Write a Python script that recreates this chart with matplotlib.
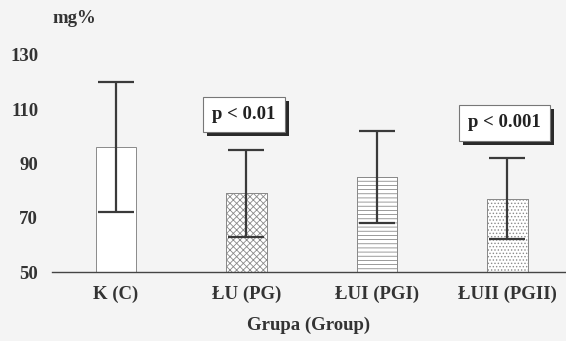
import matplotlib.pyplot as plt
from matplotlib.patches import Rectangle
import numpy as np

# data
groups = ["K (C)", "ŁU (PG)", "ŁUI (PGI)", "ŁUII (PGII)"]
means = [96, 79, 85, 77]
sd = [24, 16, 17, 15]
hatches = ["", "xxxxx", "----", "....."]
p_labels = ["", "p < 0.01", "", "p < 0.001"]
yticks = [50, 70, 90, 110, 130]

plt.rcParams['font.family'] = ['Liberation Serif', 'DejaVu Serif']
plt.rcParams['font.weight'] = 'bold'
plt.rcParams['axes.labelweight'] = 'bold'
plt.rcParams['hatch.color'] = '#c8c8c8'
plt.rcParams['hatch.linewidth'] = 0.6

bg = '#f4f4f4'
txt = '#333333'
fig = plt.figure(figsize=(5.66, 3.41), dpi=100, facecolor=bg)
ax = fig.add_axes([0.092, 0.2023, 0.908, 0.677], facecolor=bg)

x = np.arange(len(groups))
m = np.array(means)
s = np.array(sd)

ax.bar(x, m - 50, bottom=50, width=0.31, color='white', edgecolor='#8a8a8a',
       linewidth=0.7)
for xi, mi, h in zip(x, m, hatches):
    if h:
        ax.bar(xi, mi - 50, bottom=50, width=0.31, color='none', edgecolor='#8a8a8a',
               linewidth=0.7, hatch=h)

# SD range drawn as a whisker from lower cap to upper cap
ax.errorbar(x, m, yerr=s, fmt='none', ecolor='#3a3a3a', elinewidth=1.6,
            capsize=13, capthick=1.6)

# p-value boxes
p_texts = []
for xi, mi, si, lab in zip(x, m, s, p_labels):
    if not lab:
        continue
    ty = mi + si + 13
    t = ax.text(xi - 0.02, ty, lab, ha='center', va='center', fontsize=13.5,
                color='#222222', zorder=5,
                bbox=dict(boxstyle='square,pad=0.5', fc='white', ec='#777777', lw=0.8))
    p_texts.append(t)

ax.set_xlim(-0.49, 3.45)
ax.set_ylim(50, 135)
ax.set_yticks(yticks)
ax.set_xticks(x)
ax.set_xticklabels(groups, fontsize=13.5, color=txt)
ax.tick_params(axis='both', length=0, colors=txt, labelsize=13.5)
ax.tick_params(axis='y', pad=10)
ax.tick_params(axis='x', pad=10)
for sp in ['top', 'right', 'left']:
    ax.spines[sp].set_visible(False)
ax.spines['bottom'].set_color('#444444')
ax.spines['bottom'].set_linewidth(1.0)

ax.set_xlabel("Grupa (Group)", fontsize=13.5, color=txt, labelpad=10)
fig.text(0.092, 0.947, "mg%", fontsize=13.5, color=txt, ha='left', va='center')

# shadow under the p-value boxes (bottom and right edge)
fig.canvas.draw()
for t in p_texts:
    bb = t.get_bbox_patch().get_window_extent()
    sh = Rectangle((bb.x0 + 4, bb.y0 - 4), bb.width, bb.height, transform=None,
                   fc='#2a2a2a', ec='none', zorder=4)
    ax.add_artist(sh)
    sh.set_clip_on(False)

fig.savefig("out.png", dpi=100, facecolor=bg)
